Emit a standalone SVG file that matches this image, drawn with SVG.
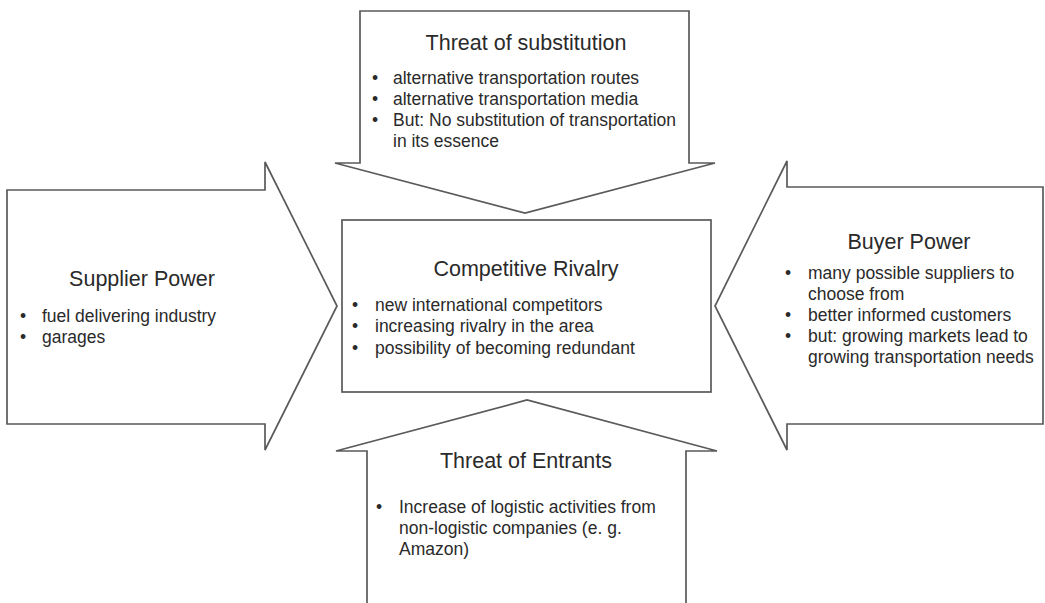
<svg xmlns="http://www.w3.org/2000/svg" width="1045" height="603" viewBox="0 0 1045 603">
  <style>
    .shape { fill: #ffffff; stroke: #5a5a5a; stroke-width: 1.7; stroke-linejoin: miter; }
    .title { font-family: "Liberation Sans", Arial, sans-serif; font-size: 21.5px; fill: #2a2a2a; text-anchor: middle; }
    .item { font-family: "Liberation Sans", Arial, sans-serif; font-size: 17.5px; fill: #2a2a2a; }
  </style>
  <rect x="0" y="0" width="1045" height="603" fill="#ffffff"/>

  <!-- Threat of substitution: arrow pointing down -->
  <g id="threat-substitution">
    <polygon class="shape" points="360,11 689,11 689,163 715,163 525,213 335,163 360,163"/>
    <text class="title" x="526" y="50">Threat of substitution</text>
    <text class="item" x="372" y="84">•</text>
    <text class="item" x="393" y="84">alternative transportation routes</text>
    <text class="item" x="372" y="105">•</text>
    <text class="item" x="393" y="105">alternative transportation media</text>
    <text class="item" x="372" y="126">•</text>
    <text class="item" x="393" y="126">But: No substitution of transportation</text>
    <text class="item" x="393" y="147">in its essence</text>
  </g>

  <!-- Supplier Power: arrow pointing right -->
  <g id="supplier-power">
    <polygon class="shape" points="7,190 265,190 265,162 337,306 265,450 265,424 7,424"/>
    <text class="title" x="142" y="286">Supplier Power</text>
    <text class="item" x="20" y="322">•</text>
    <text class="item" x="42" y="322">fuel delivering industry</text>
    <text class="item" x="20" y="343">•</text>
    <text class="item" x="42" y="343">garages</text>
  </g>

  <!-- Competitive Rivalry: central box -->
  <g id="competitive-rivalry">
    <rect class="shape" x="342" y="220" width="369" height="172"/>
    <text class="title" x="526" y="276">Competitive Rivalry</text>
    <text class="item" x="352" y="311">•</text>
    <text class="item" x="375" y="311">new international competitors</text>
    <text class="item" x="352" y="332">•</text>
    <text class="item" x="375" y="332">increasing rivalry in the area</text>
    <text class="item" x="352" y="354">•</text>
    <text class="item" x="375" y="354">possibility of becoming redundant</text>
  </g>

  <!-- Buyer Power: arrow pointing left -->
  <g id="buyer-power">
    <polygon class="shape" points="1043,187 787,187 787,161 715,306 787,450 787,424 1043,424"/>
    <text class="title" x="909" y="249">Buyer Power</text>
    <text class="item" x="785" y="279">•</text>
    <text class="item" x="808" y="279">many possible suppliers to</text>
    <text class="item" x="808" y="300">choose from</text>
    <text class="item" x="785" y="321">•</text>
    <text class="item" x="808" y="321">better informed customers</text>
    <text class="item" x="785" y="342">•</text>
    <text class="item" x="808" y="342">but: growing markets lead to</text>
    <text class="item" x="808" y="363">growing transportation needs</text>
  </g>

  <!-- Threat of Entrants: arrow pointing up, body runs off the bottom edge -->
  <g id="threat-entrants">
    <polygon class="shape" points="367,620 367,451 336,451 527,400 717,451 686,451 686,620"/>
    <text class="title" x="526" y="468">Threat of Entrants</text>
    <text class="item" x="376" y="513">•</text>
    <text class="item" x="399" y="513">Increase of logistic activities from</text>
    <text class="item" x="399" y="534">non-logistic companies (e. g.</text>
    <text class="item" x="399" y="555">Amazon)</text>
  </g>
</svg>
